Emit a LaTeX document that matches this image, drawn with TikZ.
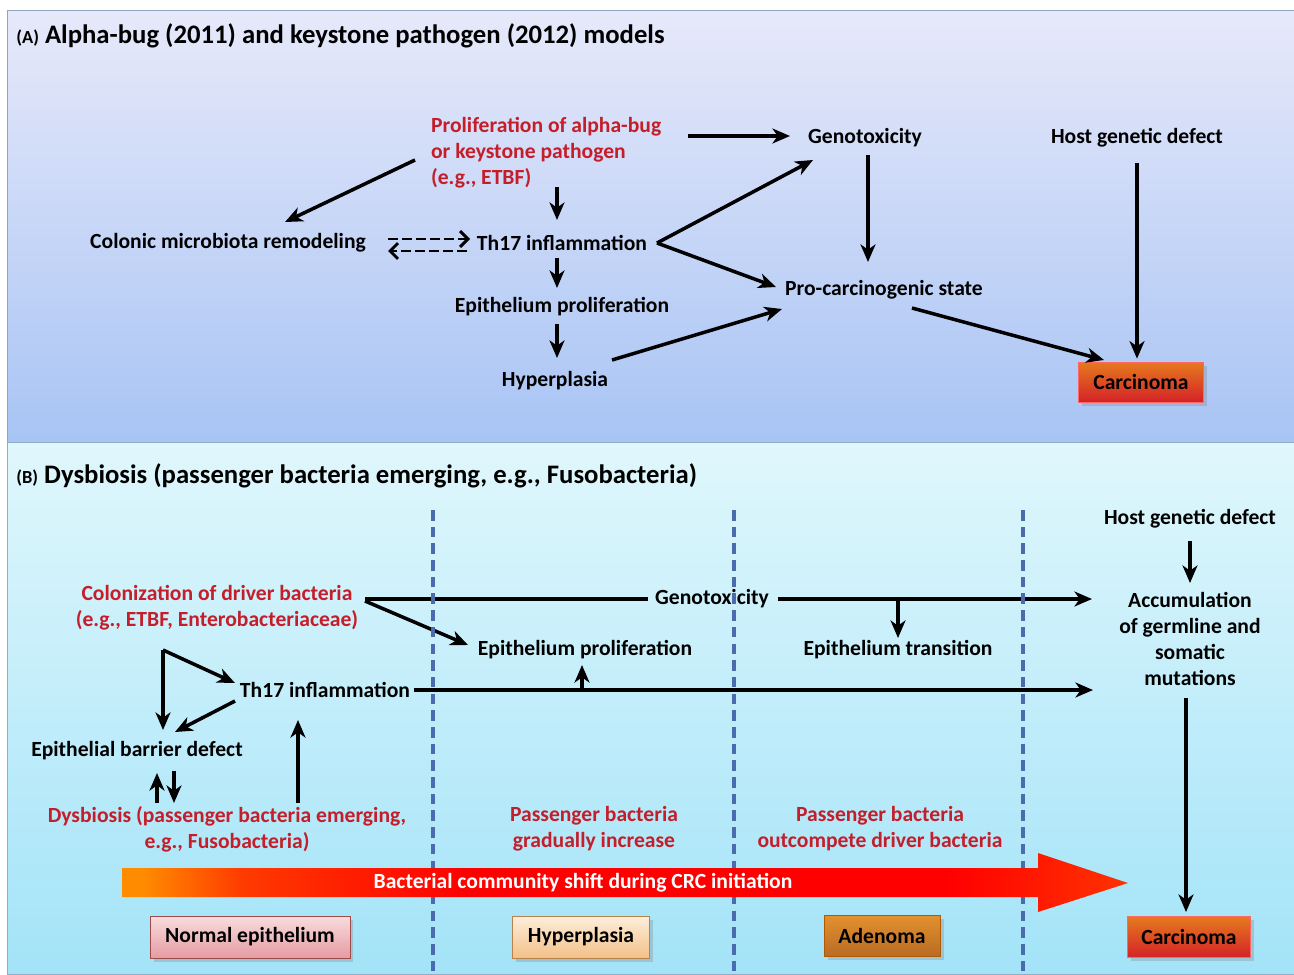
\documentclass[tikz,border=0pt]{standalone}
\usepackage{fontspec}
\setmainfont{Carlito}
\usetikzlibrary{arrows.meta,positioning,calc,shadows}

\definecolor{redtxt}{HTML}{C41E2A}
\definecolor{divblue}{HTML}{4A6CAE}
\definecolor{frameA}{HTML}{8FA3C4}
\definecolor{frameB}{HTML}{8BB0C8}
\definecolor{bgAtop}{HTML}{E7E9FA}
\definecolor{bgAbot}{HTML}{A8C4F4}
\definecolor{bgBtop}{HTML}{E0F7FC}
\definecolor{bgBbot}{HTML}{A3E3F8}
\definecolor{barorange}{HTML}{FF8C00}
\definecolor{barredor}{HTML}{FF3A00}
\definecolor{barred}{HTML}{FF0000}
\definecolor{bartip}{HTML}{FF3300}
\definecolor{normtop}{HTML}{F9DCDE}
\definecolor{normbot}{HTML}{E49CA2}
\definecolor{hyptop}{HTML}{FDEEDC}
\definecolor{hypbot}{HTML}{F3C188}
\definecolor{adetop}{HTML}{E3902F}
\definecolor{adebot}{HTML}{B86C24}
\definecolor{cartop}{HTML}{E57A1E}
\definecolor{carbot}{HTML}{D42228}
\pgfdeclarehorizontalshading{shiftbar}{100bp}{color(0bp)=(barorange); color(26bp)=(barorange); color(31bp)=(barredor); color(42bp)=(barred); color(66bp)=(barred); color(75bp)=(bartip); color(100bp)=(bartip)}

\begin{document}
\begin{tikzpicture}[
    x=0.02cm, y=-0.02cm,
    lbl/.style={font=\fontsize{12.3}{14.7}\selectfont\bfseries, align=center, inner sep=1pt},
    rlbl/.style={lbl, text=redtxt},
    ttl/.style={anchor=west, font=\fontsize{15.2}{18}\selectfont\bfseries, inner sep=0pt},
    arr/.style={-{Stealth[length=10pt,width=8.5pt,inset=3pt]}, line width=2pt},
    flat/.style={line width=2pt},
    dasharr/.style={-{Straight Barb[length=4.5pt,width=9pt]}, line width=1.7pt, dash pattern=on 5.5pt off 2.5pt},
    divider/.style={draw=divblue, line width=2pt, dash pattern=on 6pt off 3.5pt},
    stagebox/.style={draw, lbl, minimum height=0.84cm, inner xsep=4pt,
      drop shadow={opacity=0.3, shadow xshift=2pt, shadow yshift=-2pt}}
  ]
    \useasboundingbox (0,0) rectangle (1294,974);
    \fill[white] (0,0) rectangle (1294,974);
    \shade[top color=bgAtop, bottom color=bgAbot, draw=frameA] (7,10) rectangle (1294,442);
    \shade[top color=bgBtop, bottom color=bgBbot, draw=frameB] (7,442) rectangle (1294,974);

    \node[ttl] (ttlA) at (16,36) {{\fontsize{10.5}{12}\selectfont (A)} Alpha-bug (2011) and keystone pathogen (2012) models};
    \node[rlbl, anchor=west, align=left] (prolif) at (429,153) {Proliferation of alpha-bug\\or keystone pathogen\\(e.g., ETBF)};
    \node[lbl] (genoA) at (865,138) {Genotoxicity};
    \node[lbl] (hostA) at (1137,138) {Host genetic defect};
    \node[lbl] (colonic) at (228,243) {Colonic microbiota remodeling};
    \node[lbl] (th17A) at (562,243) {Th17 inflammation};
    \node[lbl] (proA) at (884,290) {Pro-carcinogenic state};
    \node[lbl] (epiA) at (562,307) {Epithelium proliferation};
    \node[lbl] (hypA) at (555,381) {Hyperplasia};
    \node[stagebox, draw=red!60!white, top color=cartop, bottom color=carbot,
      minimum width=2.5cm, minimum height=0.8cm] (carcA) at (1141,382) {Carcinoma};

    \draw[arr] ($(prolif.west)+(-14,7)$) -- ($(colonic)+(57,-21)$);
    \draw[arr] ($(genoA)+(-177,-2)$) -- ($(genoA)+(-75,-2)$);
    \draw[arr] ($(th17A)+(-5,-56)$) -- ($(th17A)+(-5,-23)$);
    \draw[dasharr] ($(th17A)+(-174,-4)$) -- ($(th17A)+(-92,-4)$);
    \draw[dasharr] ($(th17A)+(-95,8)$) -- ($(th17A)+(-174,8)$);
    \draw[arr] ($(th17A)+(95,0)$) -- ($(genoA)+(-52,22)$);
    \draw[arr] ($(th17A)+(95,0)$) -- ($(proA)+(-108,-3)$);
    \draw[arr] ($(th17A)+(-5,15)$) -- ($(epiA)+(-5,-19)$);
    \draw[arr] ($(epiA)+(-5,17)$) -- ($(hypA)+(2,-23)$);
    \draw[arr] ($(hypA)+(57,-21)$) -- ($(proA)+(-102,19)$);
    \draw[arr] ($(genoA)+(3,17)$) -- ($(proA)+(-16,-28)$);
    \draw[arr] ($(proA)+(28,18)$) -- ($(carcA)+(-37,-22)$);
    \draw[arr] ($(hostA)+(0,25)$) -- ($(carcA.north)+(-4,-3)$);

    \node[ttl] (ttlB) at (16,476) {{\fontsize{10.5}{12}\selectfont (B)} Dysbiosis (passenger bacteria emerging, e.g., Fusobacteria)};
    \node[lbl] (hostB) at (1190,519) {Host genetic defect};
    \node[lbl] (accum) at (1190,639) {Accumulation\\of germline and\\somatic\\mutations};
    \node[rlbl] (colon) at (217,608) {Colonization of driver bacteria\\(e.g., ETBF, Enterobacteriaceae)};
    \node[lbl] (genoB) at (712,599) {Genotoxicity};
    \node[lbl] (epiB) at (585,650) {Epithelium proliferation};
    \node[lbl] (transB) at (898,650) {Epithelium transition};
    \node[lbl] (th17B) at (325,690) {Th17 inflammation};
    \node[lbl] (barrier) at (137,751) {Epithelial barrier defect};
    \node[rlbl] (dysb) at (227,829) {Dysbiosis (passenger bacteria emerging,\\e.g., Fusobacteria)};
    \node[rlbl] (pass1) at (594,829) {Passenger bacteria\\gradually increase};
    \node[rlbl] (pass2) at (880,829) {Passenger bacteria\\outcompete driver bacteria};
    \coordinate (split) at ($(colon)+(-54,42)$);

    \draw[arr] ($(hostB)+(0,22)$) -- ($(accum)+(0,-56)$);
    \draw[arr] ($(accum)+(-4,59)$) -- ($(accum)+(-4,273)$);
    \draw[flat] ($(colon)+(148,-9)$) -- ($(genoB)+(-64,0)$);
    \draw[arr] ($(genoB)+(66,0)$) -- ($(accum)+(-98,-40)$);
    \draw[arr] ($(colon)+(148,-7)$) -- ($(epiB)+(-117,-5)$);
    \draw[arr] ($(transB)+(0,-51)$) -- ($(transB)+(0,-12)$);
    \draw[arr] ($(th17B)+(89,0)$) -- ($(accum)+(-97,51)$);
    \draw[arr] ($(epiB)+(-3,40)$) -- ($(epiB)+(-3,15)$);
    \draw[arr] (split) -- ($(th17B)+(-90,-7)$);
    \draw[arr] (split) -- ($(barrier)+(26,-21)$);
    \draw[arr] ($(th17B)+(-90,11)$) -- ($(barrier)+(38,-19)$);
    \draw[arr] ($(barrier)+(20,52)$) -- ($(barrier)+(20,22)$);
    \draw[arr] ($(barrier)+(37,20)$) -- ($(barrier)+(37,52)$);
    \draw[arr] ($(th17B)+(-27,113)$) -- ($(th17B)+(-27,30)$);

    \foreach \xd in {433,734,1023}
      \draw[divider] (\xd,510) -- (\xd,974);

    \shade[shading=shiftbar] (122,868) -- (1038,868) -- (1038,853) -- (1128,883)
      -- (1038,912) -- (1038,897) -- (122,897) -- cycle;
    \node[lbl, text=white] (shift) at (583,883) {Bacterial community shift during CRC initiation};

    \node[stagebox, draw=red!45!black!70!white, top color=normtop, bottom color=normbot,
      minimum width=4cm] (normal) at (250,937) {Normal epithelium};
    \node[stagebox, draw=orange!60!black!70!white, top color=hyptop, bottom color=hypbot,
      minimum width=2.74cm] (hyperB) at (581,937) {Hyperplasia};
    \node[stagebox, draw=orange!70!black, top color=adetop, bottom color=adebot,
      minimum width=2.32cm, minimum height=0.82cm] (adenoma) at (882,936) {Adenoma};
    \node[stagebox, draw=red!60!white, top color=cartop, bottom color=carbot,
      minimum width=2.46cm, minimum height=0.82cm] (carcB) at (1189,937) {Carcinoma};
\end{tikzpicture}
\end{document}
